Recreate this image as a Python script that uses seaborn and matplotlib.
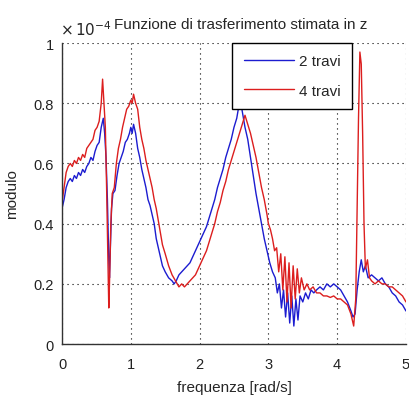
import numpy as np
import pandas as pd
import matplotlib
matplotlib.use("Agg")
import matplotlib.pyplot as plt
import seaborn as sns

# ---- data (values in units of 1e-4) ----
x_2travi = [0.00,0.03,0.06,0.09,0.12,0.15,0.18,0.21,0.24,0.27,0.30,0.33,0.36,0.39,0.42,0.45,0.48,0.51,0.54,0.57,
            0.60,0.62,0.64,0.66,0.68,0.69,0.70,0.72,0.74,0.77,0.80,0.83,0.86,0.89,0.92,0.95,0.98,1.00,1.02,1.04,
            1.07,1.10,1.13,1.16,1.19,1.22,1.25,1.28,1.31,1.34,1.37,1.40,1.43,1.46,1.50,1.55,1.60,1.63,1.66,1.70,
            1.74,1.78,1.82,1.86,1.90,1.94,1.98,2.02,2.06,2.10,2.14,2.18,2.22,2.26,2.30,2.34,2.38,2.42,2.46,2.50,
            2.54,2.57,2.60,2.63,2.66,2.70,2.74,2.78,2.82,2.86,2.90,2.94,2.98,3.02,3.06,3.10,3.13,3.16,3.19,3.22,
            3.25,3.28,3.31,3.34,3.37,3.40,3.43,3.46,3.50,3.54,3.58,3.62,3.66,3.70,3.75,3.80,3.85,3.90,3.95,4.00,
            4.05,4.10,4.15,4.20,4.23,4.26,4.29,4.32,4.35,4.38,4.41,4.45,4.50,4.55,4.60,4.65,4.70,4.75,4.80,4.85,
            4.90,4.95,5.00]
y_2travi = [0.45,0.48,0.52,0.54,0.55,0.54,0.56,0.55,0.57,0.56,0.58,0.57,0.59,0.60,0.62,0.61,0.64,0.66,0.67,0.72,
            0.75,0.70,0.62,0.48,0.28,0.22,0.30,0.45,0.50,0.51,0.56,0.60,0.62,0.64,0.67,0.68,0.70,0.72,0.70,0.73,
            0.70,0.65,0.62,0.58,0.55,0.52,0.48,0.46,0.43,0.40,0.35,0.32,0.29,0.26,0.24,0.22,0.21,0.20,0.21,0.23,
            0.24,0.25,0.26,0.27,0.29,0.31,0.33,0.35,0.37,0.39,0.42,0.45,0.48,0.52,0.55,0.58,0.62,0.65,0.68,0.72,
            0.75,0.79,0.80,0.76,0.72,0.68,0.62,0.56,0.50,0.45,0.40,0.35,0.31,0.27,0.24,0.22,0.17,0.20,0.12,0.18,
            0.09,0.17,0.07,0.16,0.06,0.15,0.08,0.16,0.14,0.17,0.15,0.18,0.17,0.18,0.19,0.18,0.20,0.19,0.20,0.19,
            0.18,0.16,0.14,0.11,0.09,0.10,0.18,0.24,0.28,0.24,0.26,0.22,0.23,0.22,0.21,0.22,0.20,0.19,0.17,0.16,
            0.14,0.13,0.11]

x_4travi = [0.00,0.03,0.06,0.09,0.12,0.15,0.18,0.21,0.24,0.27,0.30,0.33,0.36,0.39,0.42,0.45,0.48,0.51,0.54,0.57,
            0.59,0.61,0.63,0.65,0.67,0.68,0.69,0.71,0.73,0.76,0.79,0.82,0.85,0.88,0.91,0.94,0.97,1.00,1.02,1.04,
            1.07,1.10,1.13,1.16,1.19,1.22,1.25,1.28,1.31,1.34,1.37,1.40,1.43,1.46,1.50,1.55,1.60,1.65,1.70,1.74,
            1.78,1.82,1.86,1.90,1.94,1.98,2.02,2.06,2.10,2.14,2.18,2.22,2.26,2.30,2.34,2.38,2.42,2.46,2.50,2.54,
            2.58,2.62,2.66,2.70,2.74,2.78,2.82,2.86,2.90,2.94,2.98,3.00,3.03,3.06,3.09,3.12,3.15,3.18,3.21,3.24,
            3.27,3.30,3.33,3.36,3.39,3.42,3.45,3.48,3.52,3.56,3.60,3.65,3.70,3.75,3.80,3.85,3.90,3.95,4.00,4.05,
            4.10,4.15,4.20,4.24,4.27,4.29,4.31,4.33,4.35,4.37,4.39,4.41,4.44,4.47,4.50,4.55,4.60,4.65,4.70,4.75,
            4.80,4.85,4.90,4.95,5.00]
y_4travi = [0.47,0.52,0.57,0.59,0.60,0.59,0.61,0.60,0.62,0.61,0.63,0.62,0.65,0.66,0.67,0.68,0.71,0.72,0.74,0.80,
            0.88,0.80,0.72,0.50,0.25,0.12,0.20,0.40,0.50,0.52,0.60,0.65,0.68,0.72,0.75,0.78,0.79,0.81,0.80,0.83,
            0.80,0.78,0.72,0.68,0.65,0.61,0.58,0.55,0.52,0.48,0.45,0.41,0.37,0.33,0.30,0.26,0.23,0.21,0.19,0.20,
            0.19,0.20,0.21,0.22,0.23,0.25,0.27,0.29,0.31,0.34,0.37,0.40,0.44,0.47,0.51,0.54,0.58,0.61,0.64,0.67,
            0.70,0.73,0.76,0.73,0.70,0.66,0.62,0.57,0.52,0.48,0.43,0.40,0.38,0.35,0.31,0.32,0.24,0.30,0.18,0.29,
            0.14,0.27,0.12,0.26,0.15,0.25,0.17,0.22,0.18,0.20,0.18,0.19,0.17,0.17,0.16,0.16,0.155,0.16,0.15,0.15,
            0.14,0.13,0.10,0.06,0.15,0.45,0.75,0.97,0.93,0.70,0.40,0.25,0.28,0.22,0.21,0.20,0.21,0.20,0.20,0.19,
            0.19,0.18,0.17,0.16,0.14]

labels = ["2 travi", "4 travi"]
x_ticks = [0, 1, 2, 3, 4, 5]
y_ticks = [0, 0.2, 0.4, 0.6, 0.8, 1]

df = pd.concat([
    pd.DataFrame({"freq": x_2travi, "mod": y_2travi, "serie": labels[0]}),
    pd.DataFrame({"freq": x_4travi, "mod": y_4travi, "serie": labels[1]}),
], ignore_index=True)

sns.set_style("white")
plt.rcParams["font.family"] = ["Liberation Sans", "DejaVu Sans"]

fig = plt.figure(figsize=(4.09, 4.06), dpi=100)
ax = fig.add_axes([0.1516, 0.150, 0.841, 0.7416])

sns.lineplot(data=df, x="freq", y="mod", hue="serie", sort=False, estimator=None,
             palette={labels[0]: "#1c1cd0", labels[1]: "#dc1e1e"}, linewidth=1.0, ax=ax)

ax.set_xlim(0, 5)
ax.set_ylim(0, 1)
ax.set_xticks(x_ticks)
ax.set_yticks(y_ticks)
ax.set_xticklabels([f"{v:g}" for v in x_ticks], fontsize=10.5)
ax.set_yticklabels([f"{v:g}" for v in y_ticks], fontsize=10.5)
ax.tick_params(direction="in", length=3, width=0.8, colors="#222222")
ax.tick_params(axis="x", pad=9)
ax.tick_params(axis="y", pad=6)
ax.grid(True, linestyle=(0, (1, 3.5)), color="black", linewidth=0.8)
for s in ["top", "right"]:
    ax.spines[s].set_visible(False)
for s in ["left", "bottom"]:
    ax.spines[s].set_color("#333333")
    ax.spines[s].set_linewidth(1.0)

ax.set_xlabel("frequenza [rad/s]", fontsize=11, labelpad=7)
ax.set_ylabel("modulo", fontsize=11, labelpad=10)
ax.set_title("Funzione di trasferimento stimata in z", fontsize=11, pad=11, x=0.52)
ax.text(-0.005, 1.018, r"$\times\,10^{-4}$", transform=ax.transAxes, fontsize=11,
        ha="left", va="bottom")

leg = ax.legend(loc="upper right", bbox_to_anchor=(0.843, 1.0), fontsize=11,
                frameon=True, fancybox=False, edgecolor="black", framealpha=1,
                borderaxespad=0, handlelength=3.3, labelspacing=1.0, borderpad=0.75,
                handletextpad=0.3)
leg.get_frame().set_linewidth(1.0)

fig.savefig("out.png", dpi=100)
